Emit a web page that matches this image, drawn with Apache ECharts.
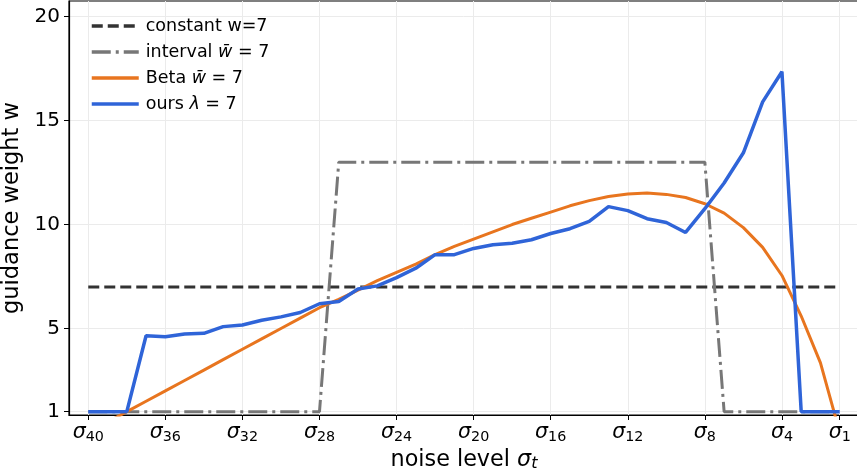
<!DOCTYPE html>
<html>
<head>
<meta charset="utf-8">
<script src="https://cdn.jsdelivr.net/npm/echarts@6/dist/echarts.min.js"></script>
<style>
html,body{margin:0;padding:0;background:#fff;}
#chart{width:857px;height:473px;}
</style>
</head>
<body>
<div id="chart"></div>
<script>
// noise level index t of sigma_t, from sigma_40 (left) to sigma_1 (right)
const steps = [40,39,38,37,36,35,34,33,32,31,30,29,28,27,26,25,24,23,22,21,20,19,18,17,16,15,14,13,12,11,10,9,8,7,6,5,4,3,2,1];
const constantW = [7,7,7,7,7,7,7,7,7,7,7,7,7,7,7,7,7,7,7,7,7,7,7,7,7,7,7,7,7,7,7,7,7,7,7,7,7,7,7,7];
const intervalW = [1,1,1,1,1,1,1,1,1,1,1,1,1,13,13,13,13,13,13,13,13,13,13,13,13,13,13,13,13,13,13,13,13,1,1,1,1,1,1,1];
const betaW = [0,0.5,1.0,1.5,2.0,2.5,3.0,3.5,4.0,4.5,5.0,5.5,6.0,6.4,6.85,7.3,7.7,8.1,8.55,8.95,9.3,9.65,10.0,10.3,10.6,10.9,11.15,11.35,11.47,11.52,11.45,11.3,11.0,10.55,9.85,8.9,7.55,5.6,3.35,0];
const oursW = [1,1,1,4.65,4.6,4.74,4.77,5.09,5.17,5.4,5.56,5.77,6.19,6.3,6.9,7.05,7.45,7.9,8.55,8.55,8.85,9.03,9.1,9.27,9.57,9.8,10.15,10.86,10.67,10.28,10.1,9.62,10.76,12.0,13.45,15.9,17.35,1,1,1];
const xTicks = [40,36,32,28,24,20,16,12,8,4,1];
const yTicks = [1,5,10,15,20];

const seriesNames = ['constant','interval','beta','ours'];
const legendText = {
  constant: 'constant w=7',
  interval: 'interval {i|w\u0304} = 7',
  beta: 'Beta {i|w\u0304} = 7',
  ours: 'ours {i|\u03bb} = 7'
};

function pairs(vals){ return steps.map((t,i)=>[t, vals[i]]); }

const FONT = 'DejaVu Sans';
const chart = echarts.init(document.getElementById('chart'), null, {renderer:'canvas'});
chart.setOption({
  animation:false,
  backgroundColor:'#fff',
  textStyle:{fontFamily:FONT},
  grid:{left:69, right:-2, top:1, bottom:58, show:true, borderColor:'#000', borderWidth:1.2,
    containLabel:false, outerBoundsMode:'none'},
  legend:{
    orient:'vertical', left:85, top:11, itemWidth:47, itemHeight:14, itemGap:6,
    data:seriesNames,
    formatter:(n)=>legendText[n],
    itemStyle:{opacity:0, borderWidth:0},
    lineStyle:{width:3.5},
    textStyle:{fontFamily:FONT, fontSize:17.5, color:'#000', lineHeight:20, padding:[0,0,0,2],
      rich:{i:{fontFamily:FONT, fontStyle:'italic', fontSize:17.5, color:'#000'}}}
  },
  xAxis:{
    type:'value', inverse:true, min:0, max:41,
    name:'noise level {s|\u03c3}{sub|t}', nameLocation:'middle', nameGap:33,
    nameTextStyle:{fontFamily:FONT, fontSize:22.3, color:'#000',
      rich:{s:{fontFamily:FONT, fontStyle:'italic', fontSize:22.3, color:'#000'},
            sub:{fontFamily:FONT, fontStyle:'italic', fontSize:16, color:'#000', padding:[8,0,0,0]}}},
    axisLine:{show:true, onZero:false, lineStyle:{color:'#000', width:1.2}},
    axisTick:{show:true, length:5, inside:false, customValues:xTicks, lineStyle:{color:'#000', width:1}},
    axisLabel:{customValues:xTicks, margin:7, color:'#000',
      formatter:(v)=>'{s|\u03c3}{sub|'+v+'}',
      rich:{s:{fontFamily:FONT, fontStyle:'italic', fontSize:20.5, color:'#000'},
            sub:{fontFamily:FONT, fontSize:14.3, color:'#000', padding:[8,0,0,0]}}},
    splitLine:{show:true, lineStyle:{color:'#ebebeb', width:1}}
  },
  yAxis:{
    type:'value', min:0.84, max:20.75,
    name:'guidance weight w', nameLocation:'middle', nameGap:40, nameRotate:90,
    nameTextStyle:{fontFamily:FONT, fontSize:22.5, color:'#000'},
    axisLine:{show:true, onZero:false, lineStyle:{color:'#000', width:1.2}},
    axisTick:{show:true, length:5, customValues:yTicks, lineStyle:{color:'#000', width:1}},
    axisLabel:{customValues:yTicks, margin:9, color:'#000', fontFamily:FONT, fontSize:20},
    splitLine:{show:true, lineStyle:{color:'#ebebeb', width:1}}
  },
  series:[
    {name:'constant', type:'line', data:pairs(constantW), symbol:'none', clip:true,
      color:'#333333', lineStyle:{color:'#333333', width:3, type:[11,5]}},
    {name:'interval', type:'line', data:pairs(intervalW), symbol:'none', clip:true,
      color:'#777777', lineStyle:{color:'#777777', width:3, type:[19,5,3,5]}},
    {name:'beta', type:'line', data:pairs(betaW), symbol:'none', clip:true,
      color:'#e8751f', lineStyle:{color:'#e8751f', width:3}},
    {name:'ours', type:'line', data:pairs(oursW), symbol:'none', clip:true,
      color:'#2f64d8', lineStyle:{color:'#2f64d8', width:3.5}}
  ]
});
</script>
</body>
</html>
